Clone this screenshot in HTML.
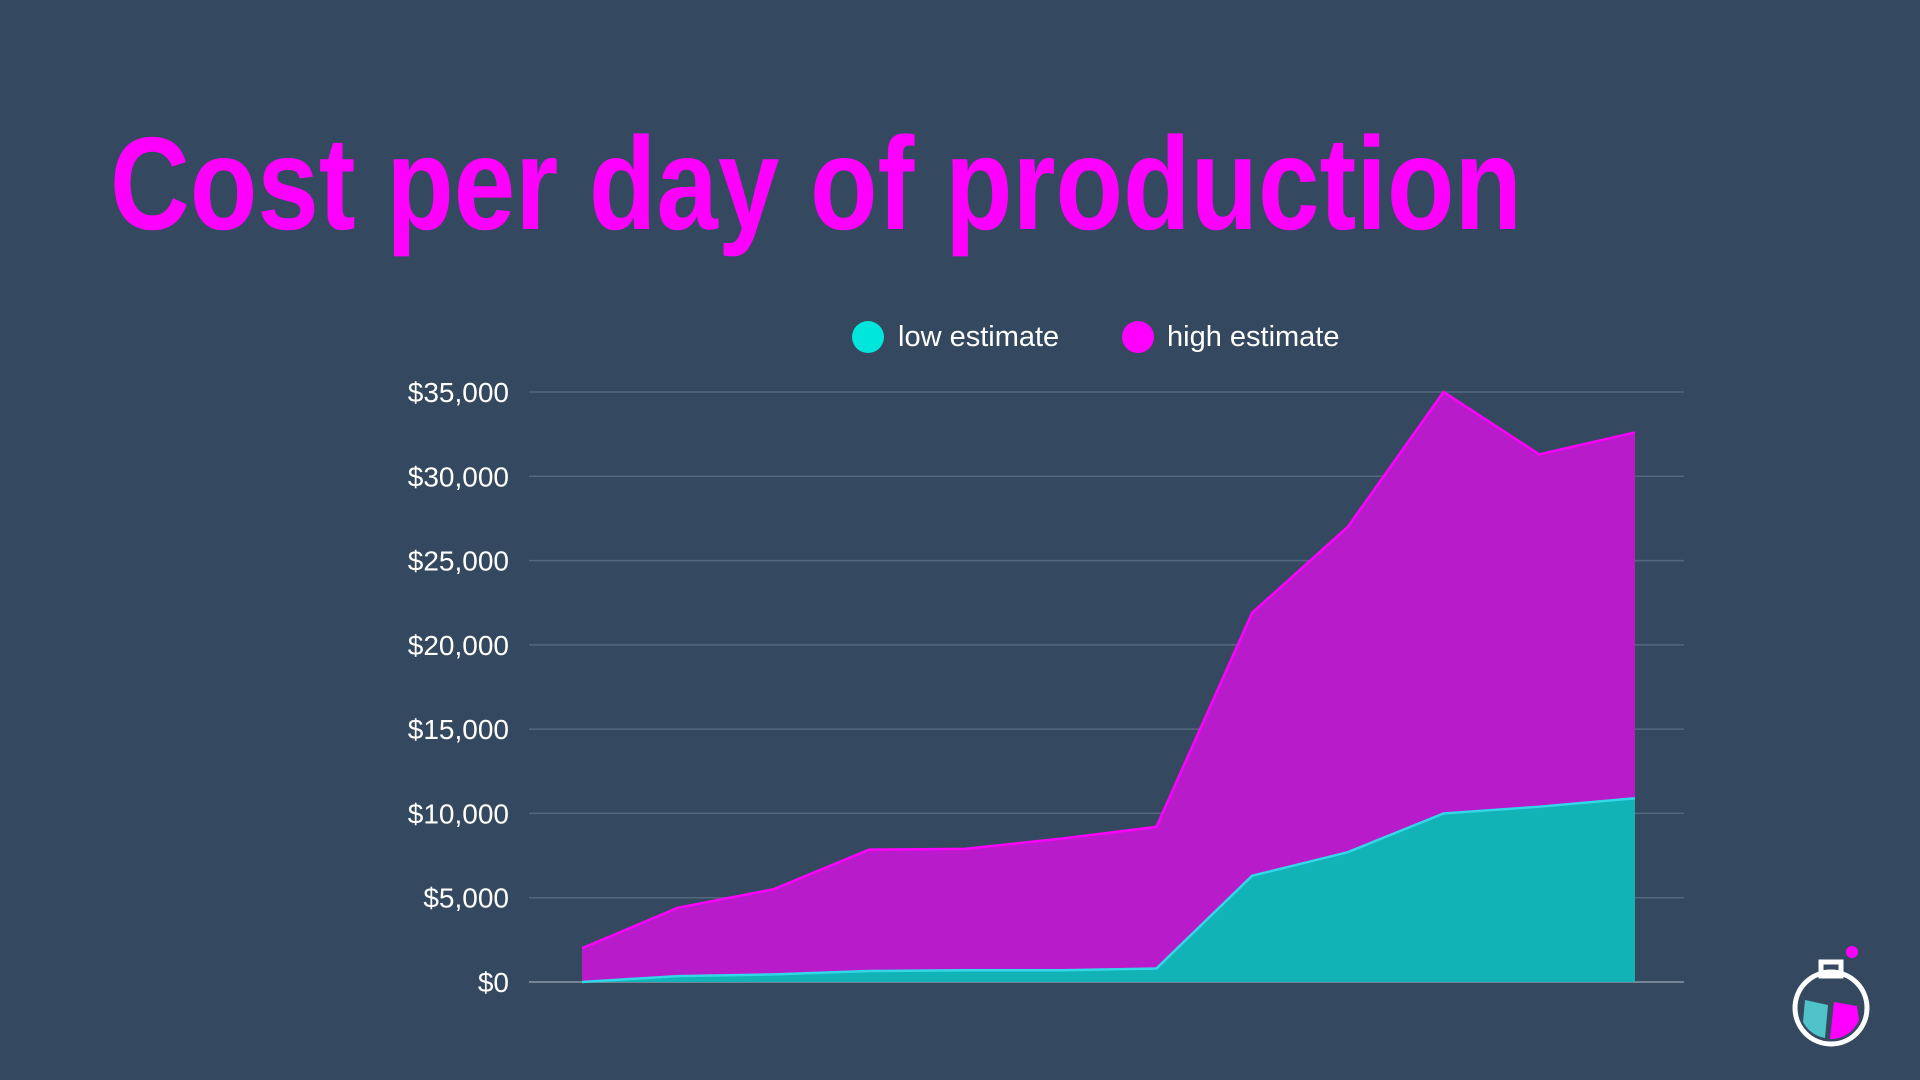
<!DOCTYPE html>
<html><head><meta charset="utf-8"><style>
html,body{margin:0;padding:0;background:#34495f;width:1920px;height:1080px;overflow:hidden}
svg{display:block}
</style></head><body>
<svg width="1920" height="1080" viewBox="0 0 1920 1080" font-family="Liberation Sans, sans-serif">
<rect width="1920" height="1080" fill="#34495f"/>
<text x="110" y="229" font-size="132" font-weight="bold" fill="#ff00ff" textLength="1412" lengthAdjust="spacingAndGlyphs">Cost per day of production</text>
<g>
 <g><circle cx="868" cy="337" r="16" fill="#00e5dc"/><text x="898" y="346" font-size="29" fill="#ffffff">low estimate</text></g>
 <g><circle cx="1138" cy="337" r="16" fill="#ff00ff"/><text x="1167" y="346" font-size="29" fill="#ffffff">high estimate</text></g>
</g>
<g id="grid"></g>
<g id="yticks"></g>
<g id="areas"></g>
<g transform="translate(1831,1008)">
 <circle cx="0" cy="0" r="36" fill="none" stroke="#fff" stroke-width="5"/>
 <rect x="-10" y="-46" width="20" height="14" fill="none" stroke="#fff" stroke-width="5"/>
 <path d="M-26,-8 L-3,-3 L-6,30 A30,30 0 0 1 -28,14 Z" fill="#4fc3c7"/>
 <path d="M3,-6 L26,-2 L28,12 A30,30 0 0 1 -1,31 Z" fill="#ff00ff"/>
 <circle cx="21" cy="-56" r="6" fill="#ff00ff"/>
</g>
</svg>
<script>
const categories = [1,2,3,4,5,6,7,8,9,10,11,12];
const lowValues = [0,350,450,650,700,700,800,6300,7700,10000,10400,10900];
const highValues = [2000,4400,5500,7850,7900,8500,9200,21900,27000,35000,31300,32600];
const yTickLabels = ["$0","$5,000","$10,000","$15,000","$20,000","$25,000","$30,000","$35,000"];
const yTickValues = [0,5000,10000,15000,20000,25000,30000,35000];
const NS='http://www.w3.org/2000/svg';
const x0=582,x1=1635,yZero=982,yTop=392,yMax=35000;
const xs=i=>x0+(x1-x0)*i/(categories.length-1);
const ys=v=>yZero-(yZero-yTop)*v/yMax;
const grid=document.getElementById('grid'),yt=document.getElementById('yticks'),areas=document.getElementById('areas');
yTickValues.forEach((v,i)=>{
 const l=document.createElementNS(NS,'line');
 l.setAttribute('x1',529);l.setAttribute('x2',1684);l.setAttribute('y1',ys(v));l.setAttribute('y2',ys(v));
 l.setAttribute('stroke',v===0?'#8a97a8':'#55677d');l.setAttribute('stroke-width',1.5);
 
 
 grid.appendChild(l);
 const t=document.createElementNS(NS,'text');
 t.setAttribute('x',509);t.setAttribute('y',ys(v)+10);t.setAttribute('text-anchor','end');
 t.setAttribute('font-size',28);t.setAttribute('fill','#ffffff');t.textContent=yTickLabels[i];
 
 
 yt.appendChild(t);
});
function area(vals,fill,stroke,name){
 let d='M'+xs(0)+','+yZero;
 vals.forEach((v,i)=>d+=' L'+xs(i)+','+ys(v));
 d+=' L'+xs(vals.length-1)+','+yZero+' Z';
 const p=document.createElementNS(NS,'path');
 p.setAttribute('d',d);p.setAttribute('fill',fill);
 
 
 areas.appendChild(p);
 const ln=document.createElementNS(NS,'polyline');
 ln.setAttribute('points',vals.map((v,i)=>xs(i)+','+ys(v)).join(' '));
 ln.setAttribute('fill','none');ln.setAttribute('stroke',stroke);ln.setAttribute('stroke-width',2.5);
 
 
 areas.appendChild(ln);
}
area(highValues,'#b81bca','#ff00ff','high-estimate');
area(lowValues,'#12b3b6','#33d8e6','low-estimate');
</script>
</body></html>
